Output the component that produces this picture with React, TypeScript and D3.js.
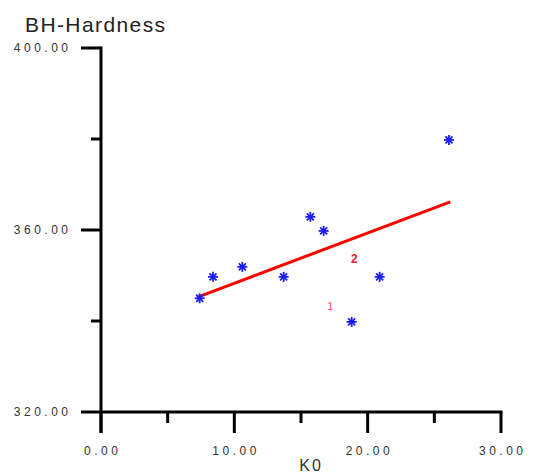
import { useEffect, useRef } from 'react';
import * as d3 from 'd3';

// points
const kValues = [7.4, 8.4, 10.6, 13.7, 15.7, 16.7, 18.8, 20.9, 26.1];
const hardness = [345.0, 349.7, 351.9, 349.7, 362.9, 359.8, 339.8, 349.7, 379.8];
// fitted line end points
const fitX = [7.2, 26.2];
const fitY = [345.2, 366.2];
// small red labels
const labelText = ['1', '2'];
const labelX = [17.2, 19.0];
const labelY = [343.3, 353.6];

const xMajor = [0, 10, 20, 30];
const xMinor = [5, 15, 25];
const yMajor = [320, 360, 400];
const yMinor = [340, 380];

export default function App() {
  const ref = useRef<SVGSVGElement>(null);

  useEffect(() => {
    if (!ref.current) return;
    const svg = d3.select(ref.current);
    svg.selectAll('*').remove();

    const W = 541;
    const H = 476;
    const x = d3.scaleLinear().domain([0, 30]).range([101, 501]);
    const y = d3.scaleLinear().domain([320, 400]).range([412, 48]);
    const fmt = d3.format('.2f');
    const font = 'Arial, "Liberation Sans", sans-serif';
    const ls = 3.5;

    svg.append('rect').attr('width', W).attr('height', H).attr('fill', '#fff');

    // title
    svg.append('text')
      .attr('x', 25).attr('y', 32)
      .attr('font-family', font).attr('font-size', '21px').attr('letter-spacing', '1.4px')
      .attr('fill', '#222')
      .text('BH-Hardness');

    const axis = svg.append('g').attr('stroke', '#000').attr('stroke-width', 3).attr('stroke-linecap', 'butt');

    // y axis
    axis.append('line').attr('x1', x(0)).attr('x2', x(0)).attr('y1', y(400) - 1.5).attr('y2', y(320) + 21);
    yMajor.forEach((v) => {
      axis.append('line').attr('x1', x(0) - 20).attr('x2', x(0)).attr('y1', y(v)).attr('y2', y(v));
    });
    yMinor.forEach((v) => {
      axis.append('line').attr('x1', x(0) - 10).attr('x2', x(0)).attr('y1', y(v)).attr('y2', y(v));
    });

    // x axis
    axis.append('line').attr('x1', x(0)).attr('x2', x(30) + 1.5).attr('y1', y(320)).attr('y2', y(320));
    xMajor.forEach((v) => {
      axis.append('line').attr('x1', x(v)).attr('x2', x(v)).attr('y1', y(320)).attr('y2', y(320) + 21);
    });
    xMinor.forEach((v) => {
      axis.append('line').attr('x1', x(v)).attr('x2', x(v)).attr('y1', y(320)).attr('y2', y(320) + 11);
    });

    // tick labels
    yMajor.forEach((v) => {
      svg.append('text')
        .attr('x', 68 + ls).attr('y', y(v)).attr('dy', '0.35em')
        .attr('text-anchor', 'end')
        .attr('font-family', font).attr('font-size', '12px').attr('letter-spacing', `${ls}px`)
        .attr('fill', '#333')
        .text(fmt(v));
    });
    xMajor.forEach((v) => {
      svg.append('text')
        .attr('x', x(v) + ls / 2).attr('y', 451).attr('dy', '0.35em')
        .attr('text-anchor', 'middle')
        .attr('font-family', font).attr('font-size', '12px').attr('letter-spacing', `${ls}px`)
        .attr('fill', '#333')
        .text(fmt(v));
    });

    // x title
    svg.append('text')
      .attr('x', 311).attr('y', 471)
      .attr('text-anchor', 'middle')
      .attr('font-family', font).attr('font-size', '16px').attr('letter-spacing', '2px')
      .attr('fill', '#333')
      .text('K0');

    // fitted line
    svg.append('line')
      .attr('x1', x(fitX[0])).attr('y1', y(fitY[0]))
      .attr('x2', x(fitX[1])).attr('y2', y(fitY[1]))
      .attr('stroke', '#f00').attr('stroke-width', 3);

    // asterisk markers
    const s = 5;
    kValues.forEach((k, i) => {
      const g = svg.append('g')
        .attr('transform', `translate(${x(k)},${y(hardness[i])})`)
        .attr('stroke', '#1a1aff').attr('stroke-width', 1.8);
      [0, 45, 90, 135].forEach((a) => {
        const r = (a * Math.PI) / 180;
        g.append('line')
          .attr('x1', -s * Math.cos(r)).attr('y1', -s * Math.sin(r))
          .attr('x2', s * Math.cos(r)).attr('y2', s * Math.sin(r));
      });
    });

    // red labels
    labelText.forEach((t, i) => {
      svg.append('text')
        .attr('x', x(labelX[i])).attr('y', y(labelY[i])).attr('dy', '0.35em')
        .attr('text-anchor', 'middle')
        .attr('font-family', font).attr('font-size', i === 0 ? '11px' : '12px')
        .attr('font-weight', i === 0 ? 'normal' : 'bold')
        .attr('fill', i === 0 ? '#f05060' : '#e8202c')
        .text(t);
    });

    svg.attr('width', W).attr('height', H).attr('viewBox', `0 0 ${W} ${H}`);
  }, []);

  return <svg ref={ref} style={{ position: 'absolute', left: 0, top: 0, display: 'block' }} />;
}
